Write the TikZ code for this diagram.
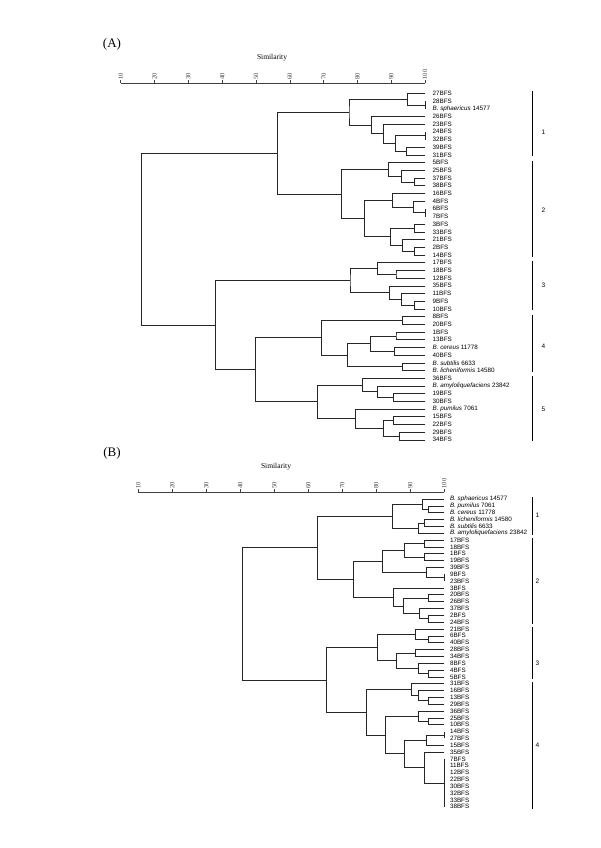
\documentclass[tikz,border=0pt]{standalone}
\usepackage{fontspec}
\setmainfont{Liberation Serif}
\setsansfont{Liberation Sans}
\usetikzlibrary{positioning}

\tikzset{
  branch/.style={black!85,line width=.6pt},
  bracket/.style={black,line width=.8pt},
  axisline/.style={black!75,line width=.6pt},
  ticklab/.style={rotate=90,anchor=west,inner sep=.6pt,font=\rmfamily\fontsize{6.5}{7}\selectfont},
  leafA/.style={anchor=west,inner xsep=7.5pt,inner ysep=0pt,outer sep=0pt,font=\sffamily\fontsize{6.3}{7}\selectfont},
  leafB/.style={leafA,inner xsep=5.7pt},
  grp/.style={inner sep=0pt,font=\sffamily\fontsize{6.5}{7}\selectfont},
  simlab/.style={inner sep=0pt,font=\rmfamily\fontsize{7.5}{8}\selectfont},
  paneltag/.style={inner sep=0pt,font=\rmfamily\fontsize{13}{14}\selectfont}
}
\newcommand\Ssph{\textit{B. sphaericus} 14577}
\newcommand\Spum{\textit{B. pumilus} 7061}
\newcommand\Scer{\textit{B. cereus} 11778}
\newcommand\Slich{\textit{B. licheniformis} 14580}
\newcommand\Ssub{\textit{B. subtilis} 6633}
\newcommand\Samy{\textit{B. amyloliquefaciens} 23842}
\newcommand\strain[1]{\ifcsname S#1\endcsname\csname S#1\endcsname\else#1BFS\fi}
% joint at (similarity,row), elbows down to both children
\newcommand\mergeat[4]{\coordinate (#1) at (#4); \draw[branch] (#2) -| (#1) |- (#3);}

\begin{document}
\begin{tikzpicture}[x=1pt,y=-1pt]
  \useasboundingbox (0,0) rectangle (600,848);
  \fill[white] (0,0) rectangle (600,848);

  % ---- panel A
  \node[paneltag] (tagA) at (112,44) {(A)};
  \node[simlab] (simA) at (272,58) {Similarity};
  \begin{scope}[shift={(86.88,93.3)},x=3.382pt,y=-7.7pt]
    \draw[axisline] (10,-1.3) -- (100,-1.3);
    \foreach \s in {10,20,...,100}{\draw[axisline] (\s,-1.3) -- ++(0pt,3pt) node[ticklab]{\s};}
    \foreach \n [count=\i from 0] in {27,28,sph,26,23,24,32,39,31,5,25,37,38,16,4,6,7,3,33,21,2,14,17,18,12,35,11,9,10,8,20,1,13,cer,40,sub,lich,36,amy,19,30,pum,15,22,29,34}
      \node[leafA] (A\n) at (100,\i) {\strain{\n}};
    % cluster 1
    \mergeat{nA1}{A28}{Asph}{100,1.5}
    \mergeat{nA2}{A27}{nA1}{94.6,.75}
    \mergeat{nA3}{A24}{A32}{100,5.5}
    \mergeat{nA4}{A39}{A31}{94.4,7.5}
    \mergeat{nA5}{nA3}{nA4}{91.3,6.5}
    \mergeat{nA6}{A23}{nA5}{87.5,5.25}
    \mergeat{nA7}{A26}{nA6}{84,4.125}
    \mergeat{nA8}{nA2}{nA7}{77.5,2.4375}
    % cluster 2
    \mergeat{nA9}{A37}{A38}{96.8,11.5}
    \mergeat{nA10}{A25}{nA9}{93.1,10.75}
    \mergeat{nA11}{A5}{nA10}{89.1,9.875}
    \mergeat{nA12}{A6}{A7}{100,15.5}
    \mergeat{nA13}{A4}{nA12}{96.5,14.75}
    \mergeat{nA14}{A16}{nA13}{90.3,13.875}
    \mergeat{nA15}{A3}{A33}{96.8,17.5}
    \mergeat{nA16}{A2}{A14}{96.8,20.5}
    \mergeat{nA17}{A21}{nA16}{93.4,19.75}
    \mergeat{nA18}{nA15}{nA17}{89.6,18.625}
    \mergeat{nA19}{nA14}{nA18}{82,16.25}
    \mergeat{nA20}{nA11}{nA19}{75.1,13.0625}
    \mergeat{nA21}{nA8}{nA20}{56.4,7.75}
    % cluster 3
    \mergeat{nA22}{A18}{A12}{91.4,23.5}
    \mergeat{nA23}{A17}{nA22}{85.9,22.75}
    \mergeat{nA24}{A9}{A10}{96.8,27.5}
    \mergeat{nA25}{A11}{nA24}{93.1,26.75}
    \mergeat{nA26}{A35}{nA25}{89.4,25.875}
    \mergeat{nA27}{nA23}{nA26}{77.8,24.3125}
    % cluster 4
    \mergeat{nA28}{A8}{A20}{93.2,29.5}
    \mergeat{nA29}{A1}{A13}{91.4,31.5}
    \mergeat{nA30}{Acer}{A40}{90.9,33.5}
    \mergeat{nA31}{nA29}{nA30}{83.8,32.5}
    \mergeat{nA32}{Asub}{Alich}{93.2,35.5}
    \mergeat{nA33}{nA31}{nA32}{77.1,34}
    \mergeat{nA34}{nA28}{nA33}{69.4,31.75}
    % cluster 5
    \mergeat{nA35}{A19}{A30}{90.6,39.5}
    \mergeat{nA36}{Aamy}{nA35}{86,38.75}
    \mergeat{nA37}{A36}{nA36}{81.4,37.875}
    \mergeat{nA38}{A15}{A22}{90.7,42.5}
    \mergeat{nA39}{A29}{A34}{92.3,44.5}
    \mergeat{nA40}{nA38}{nA39}{87.5,43.5}
    \mergeat{nA41}{Apum}{nA40}{79.3,42.25}
    \mergeat{nA42}{nA37}{nA41}{68.1,40.0625}
    \mergeat{nA43}{nA34}{nA42}{49.7,35.90625}
    \mergeat{nA44}{nA27}{nA43}{38.1,30.109}
    \mergeat{nA45}{nA21}{nA44}{16.1,18.93}
    % groups
    \draw[bracket] (131.8,-.25) -- (131.8,8.2);
    \draw[bracket] (131.8,8.75) -- (131.8,21.2);
    \draw[bracket] (131.8,21.75) -- (131.8,28.2);
    \draw[bracket] (131.8,28.75) -- (131.8,36.2);
    \draw[bracket] (131.8,36.75) -- (131.8,45.2);
    \node[grp] (gA1) at (135,5) {1};
    \node[grp] (gA2) at (135,15.2) {2};
    \node[grp] (gA3) at (135,24.9) {3};
    \node[grp] (gA4) at (135,32.8) {4};
    \node[grp] (gA5) at (135,41.1) {5};
  \end{scope}

  % ---- panel B
  \node[paneltag] (tagB) at (112,453) {(B)};
  \node[simlab] (simB) at (276,467) {Similarity};
  \begin{scope}[shift={(104.3,499)},x=3.4pt,y=-6.84pt]
    \draw[axisline] (10,-.98) -- (100,-.98);
    \foreach \s in {10,20,...,100}{\draw[axisline] (\s,-.98) -- ++(0pt,3pt) node[ticklab]{\s};}
    \foreach \n [count=\i from 0] in {sph,pum,cer,lich,sub,amy,17,18,1,19,39,9,23,3,20,26,37,2,24,21,6,40,28,34,8,4,5,31,16,13,29,36,25,10,14,27,15,35,7,11,12,22,30,32,33,38}
      \node[leafB] (B\n) at (100,\i) {\strain{\n}};
    % cluster 1
    \mergeat{nB1}{Bpum}{Bcer}{95.3,1.5}
    \mergeat{nB2}{Bsph}{nB1}{93.5,.75}
    \mergeat{nB3}{Blich}{Bsub}{94,3.5}
    \mergeat{nB4}{nB3}{Bamy}{92.4,4.25}
    \mergeat{nB5}{nB2}{nB4}{84.7,2.5}
    % cluster 2
    \mergeat{nB6}{B17}{B18}{94,6.5}
    \mergeat{nB7}{B1}{B19}{94,8.5}
    \mergeat{nB8}{nB6}{nB7}{88.1,7.5}
    \mergeat{nB9}{B9}{B23}{100,11.5}
    \mergeat{nB10}{B39}{nB9}{94.8,10.75}
    \mergeat{nB11}{nB8}{nB10}{81.8,9.125}
    \mergeat{nB12}{B20}{B26}{95.3,14.5}
    \mergeat{nB13}{B2}{B24}{95.3,17.5}
    \mergeat{nB14}{B37}{nB13}{92.6,16.75}
    \mergeat{nB15}{nB12}{nB14}{87.9,15.625}
    \mergeat{nB16}{B3}{nB15}{85,14.3125}
    \mergeat{nB17}{nB11}{nB16}{73.1,11.71875}
    \mergeat{nB18}{nB5}{nB17}{62.6,7.109}
    % cluster 3
    \mergeat{nB19}{B6}{B40}{95.3,20.5}
    \mergeat{nB20}{B21}{nB19}{91.4,19.75}
    \mergeat{nB21}{B28}{B34}{91.4,22.5}
    \mergeat{nB22}{B4}{B5}{95.3,25.5}
    \mergeat{nB23}{B8}{nB22}{92.4,24.75}
    \mergeat{nB24}{nB21}{nB23}{85.8,23.625}
    \mergeat{nB25}{nB20}{nB24}{80.3,21.6875}
    % cluster 4
    \mergeat{nB26}{B13}{B29}{95.3,29.5}
    \mergeat{nB27}{B16}{nB26}{92.4,28.75}
    \mergeat{nB28}{B31}{nB27}{90.2,27.875}
    \mergeat{nB29}{B25}{B10}{95.3,32.5}
    \mergeat{nB30}{B36}{nB29}{92.4,31.75}
    \mergeat{nB31}{B14}{B27}{100,34.5}
    \mergeat{nB32}{nB31}{B15}{94.8,35.25}
    \mergeat{nB33}{B7}{B38}{100,41.5}
    \mergeat{nB34}{B35}{nB33}{94,39.25}
    \mergeat{nB35}{nB32}{nB34}{88.2,37.25}
    \mergeat{nB36}{nB30}{nB35}{82.6,34.5}
    \mergeat{nB37}{nB28}{nB36}{77.2,31.1875}
    \mergeat{nB38}{nB25}{nB37}{65.2,26.4375}
    \mergeat{nB39}{nB18}{nB38}{40.7,16.773}
    % groups
    \draw[bracket] (126,-.3) -- (126,5.25);
    \draw[bracket] (126,5.75) -- (126,18.25);
    \draw[bracket] (126,18.75) -- (126,26.25);
    \draw[bracket] (126,26.75) -- (126,45.25);
    \node[grp] (gB1) at (127.4,2.34) {1};
    \node[grp] (gB2) at (127.4,12.05) {2};
    \node[grp] (gB3) at (127.4,24) {3};
    \node[grp] (gB4) at (127.4,36) {4};
  \end{scope}
\end{tikzpicture}
\end{document}
